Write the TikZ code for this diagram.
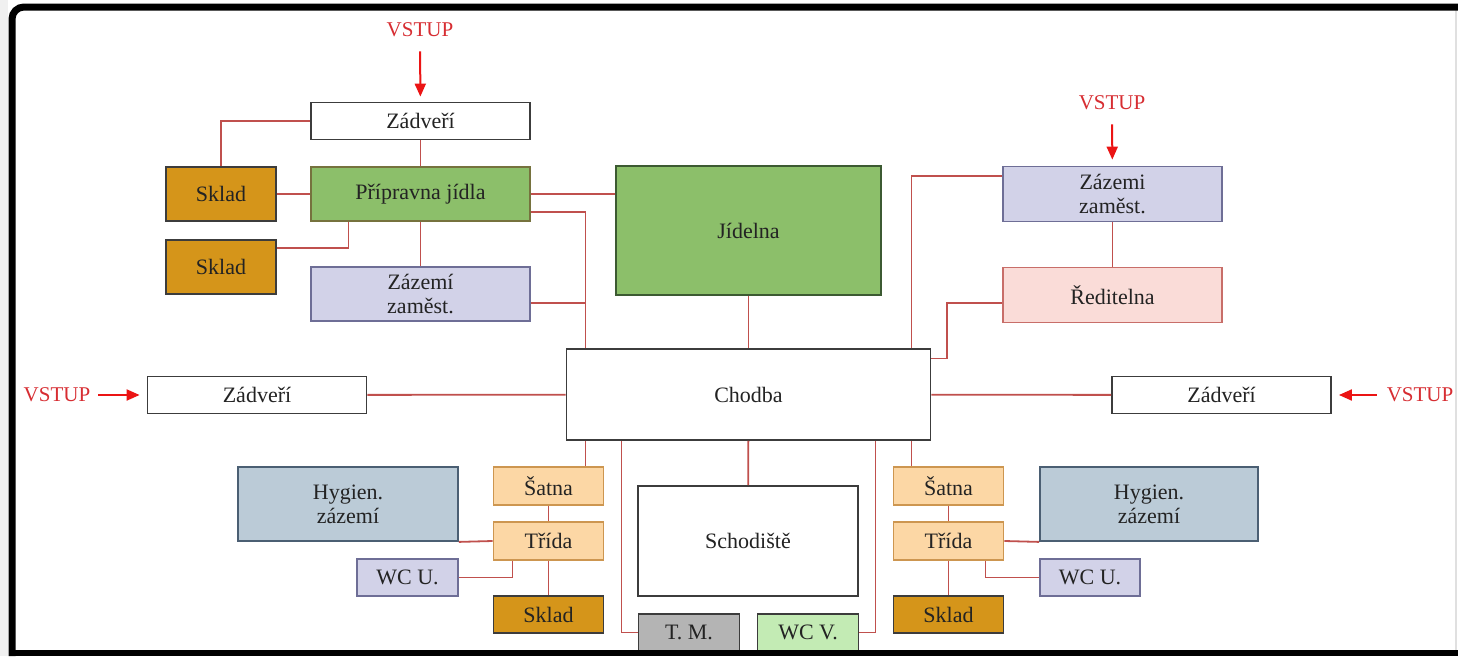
\documentclass[tikz,border=0pt]{standalone}
\usepackage{fontspec}
\setmainfont{Liberation Serif}
\usepackage{xcolor}
\definecolor{inkgray}{RGB}{35,35,35}
\definecolor{edgegray}{RGB}{60,60,60}
\definecolor{wirered}{RGB}{192,80,77}
\definecolor{vstupred}{RGB}{215,45,50}
\definecolor{arrowred}{RGB}{235,20,20}
\definecolor{skladfill}{RGB}{213,149,26}
\definecolor{kitchen}{RGB}{140,191,106}
\definecolor{kitchenedge}{RGB}{60,90,50}
\definecolor{staff}{RGB}{210,210,232}
\definecolor{staffedge}{RGB}{110,110,150}
\definecolor{office}{RGB}{250,220,216}
\definecolor{officeedge}{RGB}{200,110,105}
\definecolor{peach}{RGB}{252,215,165}
\definecolor{peachedge}{RGB}{205,150,80}
\definecolor{hygiene}{RGB}{187,203,215}
\definecolor{hygieneedge}{RGB}{75,95,115}
\definecolor{tmgray}{RGB}{180,180,180}
\definecolor{wcgreen}{RGB}{195,235,180}
\usetikzlibrary{arrows.meta}

\begin{document}
\begin{tikzpicture}[x=1pt,y=-1pt,
    every node/.style={font=\fontsize{22}{24}\selectfont,text=inkgray,align=center,inner sep=0pt},
    room/.style={draw=edgegray,line width=1.8pt,fill=white},
    sklad/.style={room,fill=skladfill,minimum width=110pt},
    wire/.style={draw=wirered,line width=1.8pt},
    vstup/.style={text=vstupred,font=\fontsize{21}{23}\selectfont},
    entry/.style={draw=arrowred,line width=2pt,-{Triangle[width=11pt,length=13pt]},shorten <=8pt,shorten >=7pt}]
    \useasboundingbox (0,0) rectangle (1458,656);
    \fill[white] (0,0) rectangle (1458,656);
    \fill[black!6] (0,0) rectangle (8,656);
    \draw[black!12,line width=2.5pt] (1456,10) -- (1456,650);
    % kitchen wing
    \node[room,minimum width=219pt,minimum height=37pt] (zadt) at (420.5,121) {Zádveří};
    \node[sklad,minimum height=54pt] (skla) at (221,194) {Sklad};
    \node[room,fill=kitchen,draw=kitchenedge!60!peachedge,minimum width=219pt,minimum height=54pt] (prep) at (420.5,194) {Přípravna jídla};
    \node[sklad,minimum height=54pt] (sklb) at (221,267) {Sklad};
    \node[room,fill=staff,draw=staffedge,minimum width=219pt,minimum height=54pt] (zazl) at (420.5,294) {Zázemí\\zaměst.};
    \node[room,fill=kitchen,draw=kitchenedge,minimum width=265pt,minimum height=129pt] (jid) at (748.5,230.5) {Jídelna};
    % staff wing
    \node[room,fill=staff,draw=staffedge,minimum width=219pt,minimum height=55pt] (zazr) at (1112.5,194) {Zázemi\\zaměst.};
    \node[room,fill=office,draw=officeedge,minimum width=219pt,minimum height=55pt] (red) at (1112.5,295) {Ředitelna};
    % corridor and entrances
    \node[room,minimum width=364pt,minimum height=91pt] (chod) at (748.5,394.5) {Chodba};
    \node[room,minimum width=219pt,minimum height=37pt] (zadl) at (257,395) {Zádveří};
    \node[room,minimum width=219pt,minimum height=37pt] (zadr) at (1221.5,395) {Zádveří};
    \node[vstup] (vt) at (420,30) {VSTUP};
    \node[vstup] (vr) at (1112,103) {VSTUP};
    \node[vstup] (vl) at (57,395) {VSTUP};
    \node[vstup] (vp) at (1420,395) {VSTUP};
    % classrooms left
    \node[room,fill=hygiene,draw=hygieneedge,minimum width=220pt,minimum height=74pt] (hygl) at (348,504) {Hygien.\\zázemí};
    \node[room,fill=peach,draw=peachedge,minimum width=110pt,minimum height=38pt] (satl) at (548.5,486) {Šatna};
    \node[room,fill=peach,draw=peachedge,minimum width=110pt,minimum height=38pt] (tril) at (548.5,541) {Třída};
    \node[room,fill=staff,draw=staffedge,minimum width=101pt,minimum height=37pt] (wcul) at (407.5,577.5) {WC U.};
    \node[sklad,minimum height=37pt] (skll) at (548.5,614.5) {Sklad};
    % middle
    \node[room,minimum width=220pt,minimum height=110pt] (schod) at (748,541) {Schodiště};
    \node[room,fill=tmgray,minimum width=101pt,minimum height=37pt] (tm) at (689,632.5) {T. M.};
    \node[room,fill=wcgreen,minimum width=101pt,minimum height=37pt] (wcv) at (808,632.5) {WC V.};
    % classrooms right
    \node[room,fill=peach,draw=peachedge,minimum width=110pt,minimum height=38pt] (satr) at (948.5,486) {Šatna};
    \node[room,fill=peach,draw=peachedge,minimum width=110pt,minimum height=38pt] (trir) at (948.5,541) {Třída};
    \node[room,fill=hygiene,draw=hygieneedge,minimum width=218pt,minimum height=74pt] (hygr) at (1149,504) {Hygien.\\zázemí};
    \node[room,fill=staff,draw=staffedge,minimum width=100pt,minimum height=37pt] (wcur) at (1090,577.5) {WC U.};
    \node[sklad,minimum height=37pt] (sklr) at (948.5,614.5) {Sklad};
    % entrances
    \draw[entry,shorten <=14pt,shorten >=5pt] (vt) -- (zadt);
    \draw[entry,shorten <=14pt,shorten >=6pt] (vr) -- (zazr);
    \draw[entry] (vl) -- (zadl);
    \draw[entry,shorten <=10pt] (vp) -- (zadr);
    % connections
    \coordinate (kdown) at ([xshift=-163pt]chod.north);
    \draw[wire] (zadt) -- (prep);
    \draw[wire] (zadt.west) -| (skla.north);
    \draw[wire] (skla) -- (prep);
    \draw[wire] ([xshift=-72pt]prep.south) |- ([yshift=19pt]sklb.east);
    \draw[wire] (prep) -- (zazl);
    \draw[wire] (prep.east) -- (prep.east -| jid.west);
    \draw[wire] ([yshift=-18pt]prep.east) -| (kdown);
    \draw[wire] ([yshift=-9pt]zazl.east) -- ([yshift=-9pt]zazl.east -| kdown);
    \draw[wire] (jid) -- (chod);
    \draw[wire] ([xshift=163pt]chod.north) |- ([yshift=18pt]zazr.west);
    \draw[wire] (zazr) -- (red);
    \draw[wire] ([yshift=-8pt]red.west) -- ++(-55,0) |- ([yshift=36pt]chod.east);
    \draw[wire] (zadl) -- (chod);
    \draw[wire] (chod) -- (zadr);
    \draw[wire] ([xshift=-163pt]chod.south) -- ([xshift=-163pt]chod.south |- satl.north);
    \draw[wire] (satl) -- (tril);
    \draw[wire] (tril.west) -- (hygl.south east);
    \draw[wire] ([xshift=-36pt]tril.south) |- (wcul.east);
    \draw[wire] (tril) -- (skll);
    \draw[wire] ([xshift=-127pt]chod.south) |- (tm.west);
    \draw[wire] (chod) -- (schod);
    \draw[wire] ([xshift=127pt]chod.south) |- (wcv.east);
    \draw[wire] ([xshift=163pt]chod.south) -- ([xshift=163pt]chod.south |- satr.north);
    \draw[wire] (satr) -- (trir);
    \draw[wire] (trir.east) -- (hygr.south west);
    \draw[wire] ([xshift=37pt]trir.south) |- (wcur.west);
    \draw[wire] (trir) -- (sklr);
    % frame
    \draw[black,line width=7pt,rounded corners=12pt] (1458,7) -- (12,7) -- (12,656);
    \draw[black,line width=6pt] (12,653) -- (1458,653);
\end{tikzpicture}
\end{document}
